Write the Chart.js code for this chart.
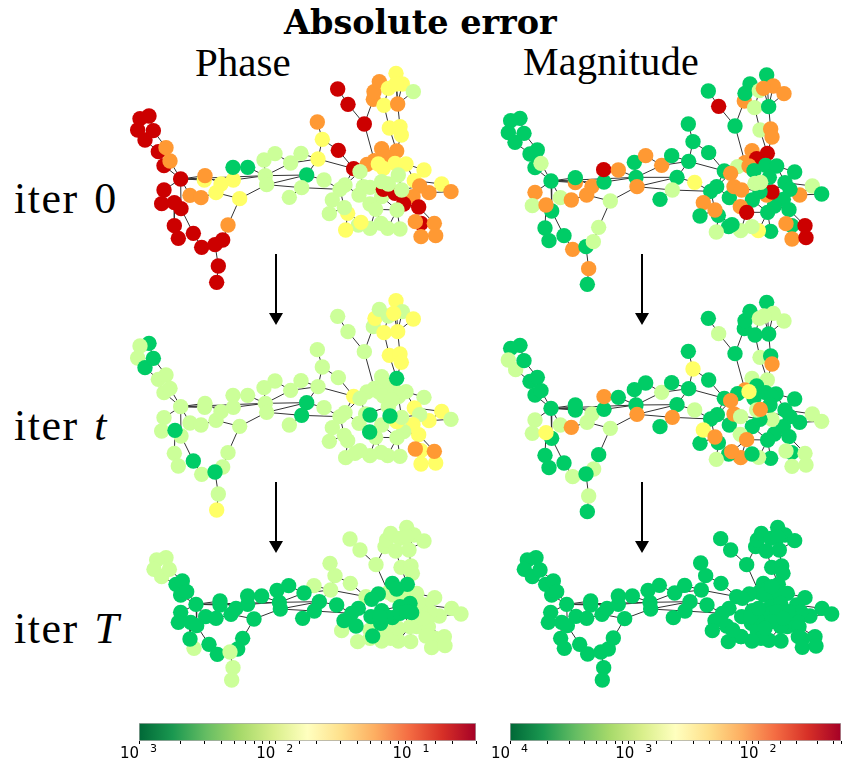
<!DOCTYPE html>
<html>
<head>
<meta charset="utf-8">
<script src="https://cdn.jsdelivr.net/npm/chart.js@4"></script>
<style>
html, body { margin: 0; padding: 0; background: #fff; overflow: hidden; }
#page { position: relative; width: 842px; height: 765px; overflow: hidden; }
canvas { position: absolute; }
.t { position: absolute; white-space: nowrap; line-height: 1; color: #000; font-family: "Liberation Serif", serif; }
.row { left: 14px; font-size: 44px; letter-spacing: 1.5px; word-spacing: 3px; }
.exp { position: absolute; top: 743px; font: 11px/1 "DejaVu Sans"; color: #000; }
svg { position: absolute; left: 0; top: 0; }
</style>
</head>
<body>
<div id="page">
  <div class="t" style="left:284px;top:3px;font:bold 33.5px 'DejaVu Serif'">Absolute error</div>
  <div class="t" style="left:195px;top:42px;font-size:41px">Phase</div>
  <div class="t" style="left:523px;top:42px;font-size:40px;letter-spacing:0.3px">Magnitude</div>
  <div class="t row" style="top:177px">iter 0</div>
  <div class="t row" style="top:404px">iter <i>t</i></div>
  <div class="t row" style="top:607px">iter <i>T</i></div>
  <svg width="842" height="765">
    <g stroke="#000" stroke-width="2">
      <line x1="276" y1="254" x2="276" y2="314"/><line x1="642" y1="254" x2="642" y2="314"/>
      <line x1="276" y1="482" x2="276" y2="542"/><line x1="642" y1="482" x2="642" y2="542"/>
    </g>
    <path d="M269 313h14l-7 12zM635 313h14l-7 12zM269 541h14l-7 12zM635 541h14l-7 12z" fill="#000"/>
  </svg>
  <canvas id="phase0" width="340" height="235" style="left:125px;top:60px"></canvas>
  <canvas id="mag0" width="340" height="235" style="left:490px;top:60px"></canvas>
  <canvas id="phaseT" width="340" height="230" style="left:125px;top:290px"></canvas>
  <canvas id="magT" width="340" height="230" style="left:490px;top:290px"></canvas>
  <canvas id="phaseEnd" width="340" height="180" style="left:140px;top:515px"></canvas>
  <canvas id="magEnd" width="340" height="180" style="left:505px;top:515px"></canvas>
  <canvas id="barPhase" width="380" height="42" style="left:110px;top:723px"></canvas>
  <canvas id="barMag" width="362" height="42" style="left:480px;top:723px"></canvas>
</div>
<script>
// error class of a node: 0 lowest ... 4 highest
var classColors = ['#00cc66', '#ccff99', '#ffff66', '#ff9933', '#cc0000'];

// nodes are [x, y, error class], same node order in every panel
var phase0 = [[72,168,4],[45,176,4],[38,210,4],[60,240,4],[85,212,4],[100,275,4],[123,263,3],[117,317,4],[135,303,3],[167,357,4],
[117,390,4],[110,431,4],[148,428,4],[168,446,4],[148,497,4],[160,535,4],[205,520,4],[230,562,4],[270,554,4],[293,540,4],
[280,618,4],[275,667,4],[309,495,3],[344,416,2],[195,406,3],[228,413,3],[238,360,2],[240,347,3],[273,398,2],[288,372,2],
[325,360,2],[324,322,0],[368,322,0],[417,300,1],[450,281,1],[421,347,1],[425,374,1],[497,309,1],[528,280,1],[579,297,2],
[592,238,2],[577,186,3],[640,271,4],[545,345,0],[597,360,1],[530,383,1],[493,412,1],[686,326,4],[638,87,4],[669,133,4],
[718,192,4],[745,118,3],[747,95,3],[763,65,3],[790,85,2],[813,40,2],[832,72,2],[813,72,2],[865,95,1],[777,136,2],
[818,132,3],[793,204,2],[825,200,2],[829,225,2],[770,266,3],[815,273,3],[748,302,3],[726,313,3],[782,290,3],[760,312,2],
[775,325,2],[810,310,2],[843,312,2],[897,330,2],[868,362,2],[950,372,2],[978,395,3],[912,398,3],[884,378,3],[864,410,3],
[836,432,4],[881,441,4],[888,490,4],[871,485,3],[928,490,3],[888,530,3],[932,527,3],[705,335,1],[668,460,2],[660,375,1],
[645,388,1],[622,420,1],[658,443,1],[613,461,1],[702,405,1],[715,380,1],[735,382,1],[770,410,1],[735,432,1],[752,448,1],
[775,388,4],[810,400,4],[790,372,1],[820,345,1],[830,390,1],[770,365,1],[816,450,1],[825,507,1],[788,505,1],[768,490,1],
[735,505,1],[700,495,1],[662,510,2],[708,487,2]];

var mag0 = [[90,175,0],[62,182,0],[55,218,0],[75,247,0],[102,220,0],[120,282,0],[142,270,0],[135,323,0],[153,310,1],[183,363,0],
[135,397,3],[127,437,1],[168,435,3],[185,453,0],[165,504,0],[177,542,0],[222,527,0],[248,568,3],[288,560,0],[310,545,1],
[296,626,3],[292,673,0],[326,502,1],[361,423,1],[211,413,1],[244,420,3],[256,368,3],[256,353,0],[290,405,3],[306,379,3],
[342,366,0],[341,329,4],[385,330,3],[433,307,0],[467,287,3],[438,352,0],[441,380,3],[515,316,3],[545,287,0],[596,304,0],
[609,245,0],[595,192,0],[656,278,0],[561,352,0],[614,367,2],[547,390,1],[510,418,0],[703,333,0],[655,93,0],[686,139,4],
[735,198,0],[763,123,3],[765,100,0],[780,72,0],[808,92,1],[830,45,0],[850,78,3],[820,85,3],[882,101,3],[794,143,1],
[836,140,0],[810,210,1],[842,207,3],[846,231,3],[786,272,3],[832,280,4],[765,308,3],[743,320,1],[800,296,4],[777,318,3],
[792,332,0],[827,316,0],[860,318,0],[914,336,0],[885,368,0],[967,378,1],[995,402,0],[929,405,3],[900,388,0],[880,418,0],
[853,438,0],[897,449,0],[905,497,0],[888,491,3],[945,497,4],[906,537,3],[948,533,4],[722,340,3],[685,466,0],[680,380,0],
[662,394,0],[640,428,3],[675,450,3],[630,468,0],[718,413,0],[732,380,3],[755,390,3],[787,420,0],[751,440,3],[770,457,4],
[830,405,3],[846,396,4],[810,395,0],[838,352,0],[795,370,1],[812,367,1],[833,457,0],[842,514,0],[805,512,2],[786,500,1],
[752,512,1],[716,500,0],[679,516,1],[726,494,0]];

var phaseT = [[72,160,0],[45,168,1],[38,204,1],[60,233,0],[85,205,0],[100,268,1],[123,255,1],[117,308,1],[135,295,1],[167,350,1],
[117,383,1],[110,423,1],[150,421,0],[168,438,1],[148,490,1],[160,528,1],[205,513,0],[230,553,1],[270,546,0],[293,531,1],
[280,612,1],[275,660,2],[309,488,1],[344,409,1],[195,399,1],[228,405,1],[239,352,1],[240,340,1],[273,391,1],[288,365,1],
[325,352,1],[324,316,1],[368,316,1],[417,293,1],[450,273,1],[421,340,1],[425,367,1],[497,301,1],[528,272,1],[579,290,1],
[592,231,1],[577,179,1],[640,263,1],[545,338,0],[597,353,1],[530,376,0],[493,405,1],[686,319,2],[638,79,1],[669,125,1],
[718,185,1],[745,110,1],[750,85,2],[763,58,1],[790,78,1],[813,32,2],[832,65,1],[806,70,2],[865,87,2],[777,128,2],
[818,125,2],[793,196,2],[825,192,2],[829,217,2],[770,260,1],[815,265,0],[748,295,1],[726,306,1],[782,283,1],[760,305,1],
[775,318,1],[810,303,1],[843,305,1],[897,322,1],[868,354,2],[950,364,2],[978,388,1],[912,392,2],[884,374,1],[864,404,2],
[836,425,1],[881,434,2],[888,482,2],[871,477,3],[928,484,3],[888,522,2],[932,519,2],[705,325,1],[668,452,1],[660,368,1],
[645,380,1],[622,413,1],[658,436,1],[613,454,1],[702,400,1],[722,372,1],[735,375,0],[770,405,1],[734,426,0],[752,442,1],
[815,395,2],[795,378,0],[790,350,1],[820,320,1],[830,382,1],[800,330,1],[816,443,1],[825,499,1],[788,497,1],[768,487,1],
[735,497,1],[705,482,1],[662,503,1],[690,490,1]];

var magT = [[90,166,0],[62,175,0],[55,210,1],[77,239,1],[102,212,0],[120,274,0],[142,262,0],[135,315,0],[153,302,0],[183,355,0],
[135,390,1],[127,430,1],[168,428,2],[185,445,0],[165,496,0],[177,533,0],[222,519,0],[248,560,1],[288,552,0],[311,537,1],
[296,618,1],[292,665,0],[326,494,0],[361,415,1],[211,405,1],[244,412,3],[256,360,0],[256,345,0],[291,397,1],[306,372,1],
[342,358,0],[342,320,3],[385,322,0],[433,299,0],[467,279,0],[438,345,0],[441,373,3],[515,307,1],[545,278,0],[596,296,0],
[609,237,2],[595,184,0],[656,270,0],[561,344,0],[614,360,1],[547,382,3],[510,410,0],[703,325,0],[655,85,0],[686,131,1],
[735,191,0],[763,116,0],[765,92,0],[780,64,0],[808,85,1],[830,37,0],[850,70,1],[822,78,1],[882,93,1],[795,135,0],
[836,132,0],[810,202,1],[842,198,0],[846,222,3],[786,265,1],[832,270,1],[765,300,3],[743,311,0],[800,288,0],[777,305,2],
[792,325,0],[827,308,0],[858,312,0],[914,327,0],[885,360,0],[967,372,1],[995,394,1],[929,397,0],[900,380,0],[880,410,0],
[853,432,0],[897,440,0],[905,488,0],[888,483,1],[945,490,1],[906,529,1],[948,525,1],[722,332,3],[685,458,0],[682,374,0],
[662,387,0],[640,420,2],[675,441,3],[630,460,0],[718,405,0],[732,372,3],[752,380,1],[787,410,0],[751,433,1],[770,449,3],
[845,320,0],[846,388,1],[810,388,0],[840,345,0],[800,360,1],[811,358,3],[833,450,0],[842,505,0],[806,502,1],[752,503,3],
[716,492,0],[786,492,0],[679,508,1],[725,485,3]];

var phaseEnd = [[78,128,1],[50,135,1],[42,163,1],[65,185,1],[88,163,1],[108,208,0],[127,198,0],[122,240,0],[140,230,0],[168,268,0],
[122,292,0],[115,322,0],[152,322,0],[170,332,0],[150,372,0],[162,400,1],[207,388,0],[232,418,0],[270,411,1],[293,402,0],
[279,458,1],[275,495,1],[308,370,0],[342,312,0],[197,305,0],[228,310,0],[240,270,0],[240,258,0],[273,298,0],[288,280,0],
[323,268,0],[323,243,0],[365,243,0],[411,226,0],[446,212,0],[418,262,0],[421,282,0],[492,234,0],[522,212,1],[572,225,1],
[585,182,1],[570,145,1],[631,205,1],[538,260,0],[590,270,0],[523,288,0],[488,310,0],[678,245,1],[630,72,1],[660,105,1],
[708,149,1],[735,95,1],[740,75,1],[752,55,1],[780,70,1],[800,37,1],[822,60,1],[800,65,1],[852,78,1],[767,108,1],
[807,105,1],[783,157,1],[813,153,1],[817,175,1],[757,205,0],[802,208,0],[745,232,1],[715,237,0],[770,222,0],[760,240,1],
[790,250,1],[803,232,1],[830,235,1],[884,248,1],[858,270,1],[935,280,1],[963,297,1],[898,303,1],[870,290,1],[860,320,1],
[830,335,1],[865,335,1],[885,370,1],[858,363,1],[913,365,1],[875,398,1],[915,392,1],[695,253,0],[698,363,0],[655,280,0],
[635,295,0],[612,317,0],[648,333,0],[605,347,1],[693,305,0],[725,287,0],[757,308,0],[780,275,0],[722,325,0],[740,348,1],
[740,305,0],[720,305,0],[810,265,0],[815,293,0],[780,295,0],[800,290,0],[810,335,1],[812,380,1],[775,378,1],[752,370,1],
[725,378,1],[690,370,1],[653,380,1],[690,345,1],[840,285,1],[850,310,1],[835,262,1],[775,340,1]];

var magEnd = [[93,128,0],[67,135,0],[58,163,0],[82,185,0],[105,165,0],[122,208,0],[145,198,0],[140,240,0],[155,230,0],[185,268,0],
[137,292,0],[130,322,0],[170,322,0],[187,332,0],[167,370,0],[178,400,0],[224,388,0],[248,417,0],[288,411,0],[310,402,0],
[296,458,0],[292,495,0],[325,369,0],[359,311,0],[213,304,0],[245,310,0],[257,270,0],[257,258,0],[291,298,0],[306,280,0],
[340,268,0],[340,243,0],[382,243,0],[429,226,0],[463,211,0],[435,262,0],[437,282,0],[509,234,0],[539,211,0],[589,225,0],
[602,182,0],[587,144,0],[648,205,0],[555,260,0],[606,270,0],[540,288,0],[505,308,0],[695,245,0],[647,71,0],[677,105,0],
[725,149,0],[752,95,0],[757,75,0],[769,55,0],[797,70,0],[818,37,0],[840,60,0],[818,66,0],[869,77,0],[784,108,0],
[823,105,0],[800,157,0],[830,153,0],[834,175,0],[775,205,0],[820,208,0],[762,232,0],[733,237,0],[787,222,0],[777,240,0],
[807,250,0],[820,232,0],[847,235,0],[900,248,0],[875,270,0],[951,280,0],[980,297,0],[915,303,0],[887,290,0],[877,320,0],
[847,335,0],[882,335,0],[892,372,0],[880,365,0],[930,365,0],[892,397,0],[933,393,0],[712,250,0],[708,365,0],[672,280,0],
[652,295,0],[630,317,0],[665,333,0],[622,347,0],[710,305,0],[742,287,0],[774,308,0],[797,275,0],[739,325,0],[757,348,0],
[757,305,0],[737,305,0],[827,265,0],[832,293,0],[797,295,0],[817,290,0],[827,335,0],[828,378,0],[792,376,0],[768,370,0],
[741,378,0],[708,365,0],[670,380,0],[683,345,0],[800,320,0],[780,340,0],[850,290,0],[760,280,0],[800,215,0],[835,310,0]];

// nodes that lie on top of their neighbours in the panel
var mag0Raised = [12];
var phaseTRaised = [12, 16, 18, 43, 45, 65, 96, 98, 101, 83, 84];
var magTRaised = [12, 18, 69, 105, 63, 91, 92];
var phaseEndRaised = [5, 6, 7, 8, 9, 10, 11, 12, 13, 14, 16, 17, 19, 18];

// links between node numbers of the lists above
var links = [[0,1],[1,2],[2,3],[3,4],[4,0],[4,6],[3,5],[5,7],[6,8],[7,9],[8,9],[9,10],[10,11],[9,13],[12,13],[12,14],[14,15],[13,16],
[16,17],[17,18],[18,19],[19,22],[22,23],[18,20],[20,21],[23,36],[23,28],[28,25],[25,24],[24,9],[9,26],[9,27],[9,30],[9,35],[27,29],
[29,30],[28,29],[30,35],[31,32],[32,35],[33,35],[33,34],[34,37],[35,37],[37,38],[37,39],[38,39],[36,35],[35,43],[36,45],[39,43],
[39,40],[40,41],[40,42],[39,47],[42,47],[43,44],[44,90],[45,46],[45,90],[36,43],[48,49],[49,50],[50,51],[50,66],[51,52],[52,53],
[59,54],[60,56],[60,57],[60,55],[60,58],[59,61],[60,62],[62,63],[63,65],[61,65],[47,67],[47,89],[87,89],[89,91],[89,94],[90,92],
[92,93],[92,88],[88,112],[88,113],[87,95],[95,96],[96,97],[97,98],[98,99],[99,110],[99,109],[106,107],[106,108],[106,97],[106,99],
[66,70],[67,70],[68,70],[70,71],[71,72],[72,73],[72,74],[74,75],[75,77],[76,77],[78,79],[79,80],[74,78],[78,77],[80,81],[81,83],
[81,84],[83,82],[82,85],[84,86],[85,86],[102,103],[103,104],[102,105],[105,100],[100,101],[104,101],[95,102],[94,95],[111,113],
[110,111],[108,109],[102,79],[104,78]];

// colour bars
var barStops = ['#006837','#1a9850','#66bd63','#a6d96a','#d9ef8b','#ffffbf','#fee08b','#fdae61','#f46d43','#d73027','#a50026'];
var phaseRange = [1e-3, 0.297];
var phaseTicks = [1e-3, 1e-2, 1e-1];
var phaseExponents = ['3', '2', '1'];
var magRange = [1e-4, 0.046];
var magTicks = [1e-4, 1e-3, 1e-2];
var magExponents = ['4', '3', '2'];

function drawPanel(id, nodes, unitsX, unitsY, raised) {
     var linePoints = [];
     links.forEach(function (l) {
          linePoints.push({ x: nodes[l[0]][0], y: nodes[l[0]][1] });
          linePoints.push({ x: nodes[l[1]][0], y: nodes[l[1]][1] });
          linePoints.push({ x: null, y: null });
     });
     var drawn = nodes.filter(function (n, i) { return raised.indexOf(i) < 0; })
          .concat(raised.map(function (i) { return nodes[i]; }));
     new Chart(document.getElementById(id), {
          type: 'scatter',
          data: {
               datasets: [{
                    data: drawn.map(function (n) { return { x: n[0], y: n[1] }; }),
                    pointRadius: 7.7,
                    pointBorderWidth: 0,
                    pointBackgroundColor: drawn.map(function (n) { return classColors[n[2]]; }),
                    clip: false,
                    order: 1
               }, {
                    data: linePoints,
                    showLine: true,
                    spanGaps: false,
                    pointRadius: 0,
                    borderWidth: 1,
                    borderColor: '#333',
                    clip: false,
                    order: 2
               }]
          },
          options: {
               responsive: false,
               animation: false,
               events: [],
               layout: { autoPadding: false },
               plugins: { legend: { display: false }, tooltip: { enabled: false } },
               scales: {
                    x: { display: false, min: 0, max: unitsX },
                    y: { display: false, min: 0, max: unitsY, reverse: true }
               }
          }
     });
}

function drawBar(id, range, ticks, exponents, padLeft, padRight) {
     var canvas = document.getElementById(id);
     var chart = new Chart(canvas, {
          type: 'bar',
          data: {
               labels: ['error'],
               datasets: [{
                    data: [range],
                    barPercentage: 1,
                    categoryPercentage: 1,
                    borderWidth: 1,
                    borderColor: '#aaa',
                    borderSkipped: false,
                    backgroundColor: function (c) {
                         var a = c.chart.chartArea;
                         if (!a) return '#fff';
                         var g = c.chart.ctx.createLinearGradient(a.left, 0, a.right, 0);
                         barStops.forEach(function (col, i) { g.addColorStop(i / (barStops.length - 1), col); });
                         return g;
                    }
               }]
          },
          options: {
               indexAxis: 'y',
               responsive: false,
               animation: false,
               events: [],
               layout: { padding: { left: padLeft, right: padRight } },
               plugins: { legend: { display: false }, tooltip: { enabled: false } },
               scales: {
                    y: { display: false },
                    x: {
                         type: 'logarithmic',
                         min: range[0],
                         max: range[1],
                         afterFit: function (s) { s.height = 24; },
                         border: { display: false },
                         grid: { drawOnChartArea: false, drawTicks: true, tickLength: 3, color: '#000' },
                         ticks: {
                              autoSkip: false,
                              maxRotation: 0,
                              padding: 1,
                              color: '#000',
                              font: { family: 'DejaVu Sans', size: 15 },
                              callback: function (v) {
                                   var k = ticks.findIndex(function (t) { return Math.abs(t / v - 1) < 1e-6; });
                                   // trailing spaces push the 10 left of the tick, exponent sits right of it
                                   return k < 0 ? '' : '10\u00a0\u00a0\u00a0\u00a0';
                              }
                         }
                    }
               }
          }
     });
     ticks.forEach(function (t, i) {
          var e = document.createElement('div');
          e.className = 'exp';
          e.textContent = exponents[i];
          e.style.left = (parseFloat(canvas.style.left) + chart.scales.x.getPixelForValue(t) + 11) + 'px';
          document.getElementById('page').appendChild(e);
     });
}

// greens sit above the light nodes in the last phase panel
var phaseEndGreens = [];
phaseEnd.forEach(function (n, i) { if (n[2] === 0 && phaseEndRaised.indexOf(i) < 0) phaseEndGreens.push(i); });

drawPanel('phase0', phase0, 1020, 705, []);
drawPanel('mag0', mag0, 1020, 705, mag0Raised);
drawPanel('phaseT', phaseT, 1020, 690, phaseTRaised);
drawPanel('magT', magT, 1020, 690, magTRaised);
drawPanel('phaseEnd', phaseEnd, 1020, 540, phaseEndGreens.concat(phaseEndRaised));
drawPanel('magEnd', magEnd, 1020, 540, []);
drawBar('barPhase', phaseRange, phaseTicks, phaseExponents, 29, 14);
drawBar('barMag', magRange, magTicks, magExponents, 30, 0);
</script>
</body>
</html>
